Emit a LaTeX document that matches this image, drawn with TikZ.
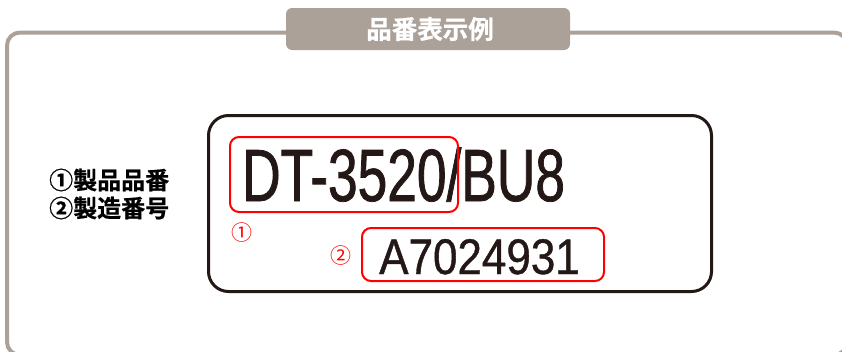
\documentclass[tikz,border=0pt]{standalone}
\usepackage{fontspec}
\setmainfont{Liberation Sans}
\newfontfamily\cjkb[FakeBold=0.6]{Noto Sans CJK JP Bold}
\newfontfamily\cjk{Noto Sans CJK JP}
\newfontfamily\plate[FakeStretch=0.72,FakeBold=1]{Liberation Sans}
\newfontfamily\serial[FakeStretch=0.88,FakeBold=0.8]{Liberation Sans}
\definecolor{framegray}{HTML}{ABA198}
\definecolor{ink}{HTML}{231815}
\definecolor{mark}{HTML}{FF0000}
\tikzset{
  outerframe/.style={draw=framegray, line width=4pt, rounded corners=13pt},
  titlebox/.style={fill=framegray, rounded corners=6pt},
  platebox/.style={draw=ink, line width=3pt, rounded corners=20pt},
  redbox/.style={draw=mark, line width=2pt, rounded corners=9pt},
  lbl/.style={inner sep=0pt, anchor=west},
}
\begin{document}
\begin{tikzpicture}[x=1pt,y=-1pt]
\useasboundingbox (0,0) rectangle (842,351);
\draw[outerframe] (7,32.5) rectangle (847,355);
\fill[titlebox] (286,8) rectangle (570,50);
\node[inner sep=0pt, text=white] (title) at (430,29) {\cjkb\fontsize{25.5pt}{25.5pt}\selectfont 品番表示例};
\node[lbl] (l1) at (49,180) {\cjkb\fontsize{24pt}{24pt}\selectfont ①製品品番};
\node[lbl] (l2) at (49,208) {\cjkb\fontsize{24pt}{24pt}\selectfont ②製造番号};
\draw[platebox] (208.5,115.5) rectangle (711.5,291.5);
\node[inner sep=0pt, anchor=base west, text=ink] (pn) at (242,201) {\plate\fontsize{74pt}{74pt}\selectfont DT-3520/BU8};
\node[inner sep=0pt, anchor=base west, text=ink] (sn) at (379,274) {\serial\fontsize{50pt}{50pt}\selectfont A7024931};
\draw[redbox] (230,137) rectangle (458,212);
\draw[redbox] (362,228) rectangle (604,281);
\node[inner sep=0pt, text=mark] (m1) at (242,233) {\cjk\fontsize{21pt}{21pt}\selectfont ①};
\node[inner sep=0pt, text=mark] (m2) at (341,256) {\cjk\fontsize{21pt}{21pt}\selectfont ②};
\end{tikzpicture}
\end{document}
